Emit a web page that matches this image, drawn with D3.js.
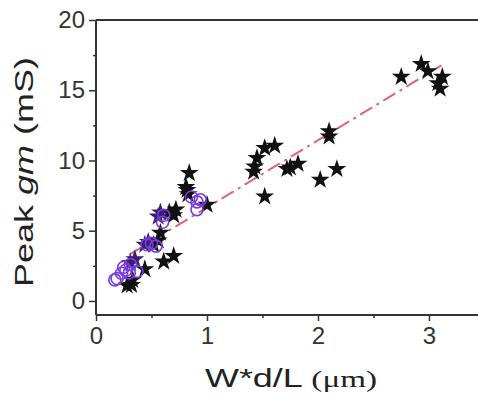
<!DOCTYPE html>
<html>
<head>
<meta charset="utf-8">
<script src="https://cdn.jsdelivr.net/npm/d3@7"></script>
<style>
  body { margin: 0; background: #fff; }
  svg { display: block; font-family: "Liberation Sans", Arial, sans-serif; }
</style>
</head>
<body>
<div class="chart-area"></div>
<script>
// black stars
const starX = [2.75, 2.93, 2.99, 3.12, 3.10, 3.08, 2.10, 2.10, 1.61, 1.52, 1.45, 1.43, 1.42, 1.52,
    1.72, 1.82, 1.75, 2.02, 2.17, 0.84, 0.82, 0.83, 0.81, 1.00, 0.72, 0.70, 0.58, 0.56,
    0.70, 0.61, 0.44, 0.32, 0.28, 0.33, 0.52, 0.66];
const starY = [15.95, 16.87, 16.35, 15.95, 15.1, 15.5, 12.07, 11.7, 11.05, 10.88, 10.17, 9.57, 9.2, 7.43,
    9.39, 9.76, 9.5, 8.62, 9.39, 9.1, 7.9, 7.6, 8.1, 6.84, 6.5, 6.1, 4.85, 4.3,
    3.2, 2.8, 2.26, 1.14, 1.1, 1.5, 4.0, 6.3];

// dark purple stars (overlapping the circles)
const pStarX = [0.31, 0.35, 0.44, 0.47, 0.58, 0.56];
const pStarY = [2.7, 2.97, 4.0, 4.2, 6.3, 6.0];

// purple open circles
const circX = [0.17, 0.19, 0.23, 0.25, 0.27, 0.30, 0.31, 0.37, 0.46, 0.50, 0.54, 0.60, 0.61, 0.91, 0.91, 0.94, 0.86];
const circY = [1.5, 1.6, 1.97, 2.4, 2.2, 2.0, 2.6, 2.1, 4.0, 4.1, 3.9, 5.6, 6.1, 6.5, 7.05, 7.2, 7.4];

// linear fit
const fitX = [0.3, 3.12];
const fitY = [3.3, 16.8];

const xTicks = [0, 1, 2, 3];
const yTicks = [0, 5, 10, 15, 20];

const width = 478;
const height = 401;
const margin = { top: 20, left: 96, bottom: 86 };

const svg = d3.select(".chart-area")
    .append("svg")
    .attr("width", width)
    .attr("height", height);

const x = d3.scaleLinear().domain([0, 3.5]).range([margin.left, margin.left + 3.5 * 111]);
const y = d3.scaleLinear().domain([-1, 20]).range([height - margin.bottom, margin.top]);

const axisColor = "#333";

// x axis (bottom)
const xAxis = svg.append("g")
    .attr("transform", `translate(0, ${y(-1)})`)
    .call(d3.axisBottom(x).tickValues(xTicks).tickSize(6).tickFormat(d3.format("d")));
xAxis.selectAll(".tick line").attr("stroke", axisColor).attr("stroke-width", 1.5);
xAxis.selectAll(".tick text").attr("font-size", 24).attr("fill", axisColor).attr("dy", "0.85em");
xAxis.select(".domain").remove();

// minor x ticks
svg.append("g")
    .attr("transform", `translate(0, ${y(-1)})`)
    .call(d3.axisBottom(x).tickValues([0.5, 1.5, 2.5]).tickSize(3).tickFormat(""))
    .call(g => g.select(".domain").remove())
    .selectAll(".tick line").attr("stroke", axisColor).attr("stroke-width", 1.5);

// y axis (left)
const yAxis = svg.append("g")
    .attr("transform", `translate(${margin.left}, 0)`)
    .call(d3.axisLeft(y).tickValues(yTicks).tickSize(7).tickPadding(4));
yAxis.selectAll(".tick line").attr("stroke", axisColor).attr("stroke-width", 1.5);
yAxis.selectAll(".tick text").attr("font-size", 24).attr("fill", axisColor);
yAxis.select(".domain").remove();

svg.append("g")
    .attr("transform", `translate(${margin.left}, 0)`)
    .call(d3.axisLeft(y).tickValues([2.5, 7.5, 12.5, 17.5]).tickSize(3).tickFormat(""))
    .call(g => g.select(".domain").remove())
    .selectAll(".tick line").attr("stroke", axisColor).attr("stroke-width", 1.5);

// frame: left, top, bottom (right side runs off the picture)
svg.append("line")
    .attr("x1", x(0)).attr("x2", x(0))
    .attr("y1", y(-1)).attr("y2", y(20))
    .attr("stroke", axisColor).attr("stroke-width", 2);
svg.append("line")
    .attr("x1", x(0)).attr("x2", width)
    .attr("y1", y(20)).attr("y2", y(20))
    .attr("stroke", axisColor).attr("stroke-width", 2);
svg.append("line")
    .attr("x1", x(0)).attr("x2", width)
    .attr("y1", y(-1)).attr("y2", y(-1))
    .attr("stroke", axisColor).attr("stroke-width", 2);

// fit line
svg.append("line")
    .attr("x1", x(fitX[0])).attr("y1", y(fitY[0]))
    .attr("x2", x(fitX[1])).attr("y2", y(fitY[1]))
    .attr("stroke", "#d94a5c")
    .attr("stroke-opacity", 0.85)
    .attr("stroke-width", 2)
    .attr("stroke-dasharray", "14,5,3,5");

const star = d3.symbol().type(d3.symbolStar).size(110);

// stars
svg.append("g").selectAll("path")
    .data(starX.map((d, i) => [d, starY[i]]))
    .enter().append("path")
    .attr("transform", d => `translate(${x(d[0])}, ${y(d[1])})`)
    .attr("d", star)
    .attr("fill", "#111");

svg.append("g").selectAll("path")
    .data(pStarX.map((d, i) => [d, pStarY[i]]))
    .enter().append("path")
    .attr("transform", d => `translate(${x(d[0])}, ${y(d[1])})`)
    .attr("d", star)
    .attr("fill", "#3a1f6e");

// circles
svg.append("g").selectAll("circle")
    .data(circX.map((d, i) => [d, circY[i]]))
    .enter().append("circle")
    .attr("cx", d => x(d[0]))
    .attr("cy", d => y(d[1]))
    .attr("r", 6)
    .attr("fill", "none")
    .attr("stroke", "#7a3ce0")
    .attr("stroke-width", 1.6);

// axis titles
svg.append("text")
    .attr("x", 291)
    .attr("y", 387)
    .attr("text-anchor", "middle")
    .attr("fill", "#222")
    .attr("font-size", 26)
    .attr("textLength", 172)
    .attr("lengthAdjust", "spacingAndGlyphs")
    .text("W*d/L ")
    .append("tspan")
    .attr("font-size", 24)
    .attr("font-family", "'Liberation Serif', serif")
    .text("(\u03bcm)");

const yTitle = svg.append("text")
    .attr("transform", "translate(33, 172) rotate(-90)")
    .attr("text-anchor", "middle")
    .attr("fill", "#222")
    .attr("font-size", 26)
    .attr("textLength", 230)
    .attr("lengthAdjust", "spacingAndGlyphs");
yTitle.append("tspan").text("Peak ");
yTitle.append("tspan").attr("font-style", "italic").text("gm");
yTitle.append("tspan").text(" (mS)");
</script>
</body>
</html>
